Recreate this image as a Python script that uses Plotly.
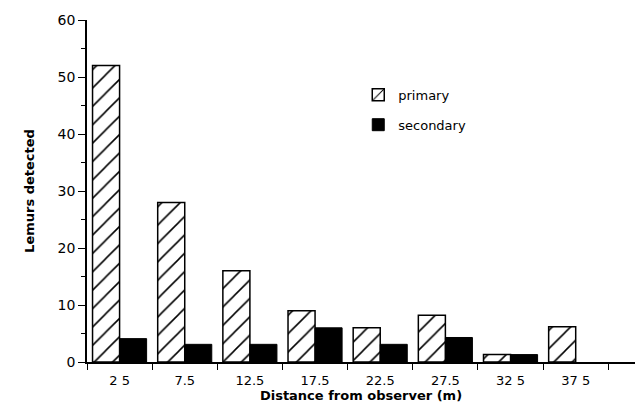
import plotly.graph_objects as go

categories = ["2 5", "7.5", "12.5", "17.5", "22.5", "27.5", "32 5", "37 5"]
primary = [52, 28, 16, 9, 6, 8.2, 1.3, 6.2]
secondary = [4.1, 3.1, 3.1, 6.0, 3.1, 4.3, 1.3, None]

font_family = "DejaVu Sans"

fig = go.Figure()
fig.add_trace(go.Bar(
    x=categories, y=primary, name="primary", legendgroup="p",
    marker=dict(color="white", line=dict(color="black", width=1.5),
                pattern=dict(shape="/", fgcolor="black", fgopacity=1, bgcolor="white", size=13, solidity=0.12)),
))
fig.add_trace(go.Bar(
    x=categories, y=secondary, name="secondary", legendgroup="s",
    marker=dict(color="black", line=dict(color="black", width=1)),
))

fig.update_layout(
    width=636, height=405,
    margin=dict(l=87, r=1, t=20, b=43),
    paper_bgcolor="white", plot_bgcolor="white",
    barmode="group", bargap=0.17, bargroupgap=0,
    font=dict(family=font_family, color="black", size=13),
    showlegend=True,
    legend=dict(x=0.495, y=0.825, xanchor="left", yanchor="top",
                traceorder="grouped", tracegroupgap=10,
                font=dict(size=13, family=font_family),
                bgcolor="rgba(0,0,0,0)"),
    xaxis=dict(
        type="category", range=[-0.5, 7.91], tickson="boundaries",
        ticks="outside", ticklen=6, tickwidth=1.3, tickcolor="black",
        showline=True, linecolor="black", linewidth=1.5,
        showgrid=False, zeroline=False,
        tickfont=dict(size=13), ticklabelstandoff=6,
        title=dict(text="<b>Distance from observer (m)</b>", font=dict(size=13), standoff=3),
    ),
    yaxis=dict(
        range=[0, 60], tickvals=[0, 10, 20, 30, 40, 50, 60],
        ticks="outside", ticklen=7, tickwidth=1.3, tickcolor="black",
        minor=dict(tickvals=[5, 15, 25, 35, 45, 55], ticks="outside", ticklen=4, tickwidth=1.2, tickcolor="black", showgrid=False),
        showline=True, linecolor="black", linewidth=1.5,
        showgrid=False, zeroline=False,
        tickfont=dict(size=14),
        title=dict(text="<b>Lemurs detected</b>", font=dict(size=13), standoff=20),
    ),
)

fig.write_html("out.html", config={"displayModeBar": False},
               post_script="document.body.style.margin='0';")
